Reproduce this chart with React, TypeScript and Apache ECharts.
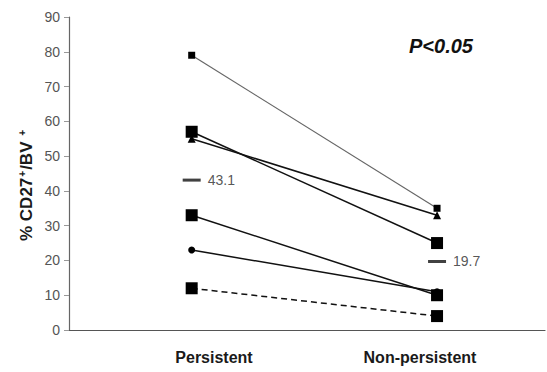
import React, { useEffect, useRef } from "react";
import * as echarts from "echarts";

const categories = ["Persistent", "Non-persistent"];
const yTicks = { min: 0, max: 90, interval: 10 };

// each patient: [persistent, non-persistent]
const line79 = [79, 35];
const line55 = [55, 33];
const line57 = [57, 25];
const line33 = [33, 10];
const line23 = [23, 11];
const line12 = [12, 4];
const means = [43.1, 19.7];
const pText = "P<0.05";

const toPts = (vals: number[]) => vals.map((v, i) => [i + 1, v]);

export default function App() {
  const ref = useRef<HTMLDivElement>(null);
  useEffect(() => {
    const chart = echarts.init(ref.current!, null, { renderer: "svg" });
    const font = "Arial, 'Liberation Sans', sans-serif";
    const black = "#111";
    const mk = (
      vals: number[],
      symbol: string,
      size: number,
      color: string,
      width: number,
      type: any = "solid"
    ) => ({
      type: "line",
      xAxisIndex: 0,
      yAxisIndex: 0,
      data: toPts(vals),
      symbol,
      symbolSize: size,
      itemStyle: { color: "#000" },
      lineStyle: { color, width, type },
      emphasis: { disabled: true },
    });
    chart.setOption({
      animation: false,
      grid: [
        { left: 69, right: 2, top: 17, bottom: 42 },
        { left: 111, width: 412, top: 17, bottom: 42 },
      ],
      xAxis: [
        {
          type: "value",
          gridIndex: 0,
          min: 0.5,
          max: 2.44,
          axisLine: { show: true, lineStyle: { color: "#555", width: 1.2 } },
          axisTick: { show: false },
          axisLabel: { show: false },
          splitLine: { show: false },
        },
        {
          type: "category",
          gridIndex: 1,
          data: categories,
          boundaryGap: true,
          axisLine: { show: false },
          axisTick: { show: false },
          axisLabel: {
            margin: 19,
            fontFamily: font,
            fontWeight: "bold",
            fontSize: 16,
            color: "#1a1a1a",
          },
        },
      ],
      yAxis: [
        {
          type: "value",
          gridIndex: 0,
          min: yTicks.min,
          max: yTicks.max,
          interval: yTicks.interval,
          axisLine: { show: true, lineStyle: { color: "#666", width: 1.2 } },
          axisTick: { show: true, length: 5, lineStyle: { color: "#999" } },
          axisLabel: { fontFamily: font, fontSize: 14, color: "#555", margin: 9 },
          splitLine: { show: false },
        },
        {
          type: "value",
          gridIndex: 1,
          show: false,
        },
      ],
      series: [
        mk(line79, "rect", 7, "#666", 1.2),
        mk(line55, "triangle", 8, black, 1.5),
        mk(line57, "rect", 12, black, 1.5),
        mk(line33, "rect", 12, black, 1.5),
        mk(line23, "circle", 7, black, 1.5),
        mk(line12, "rect", 12, black, 1.5, [6, 4]),
        {
          type: "scatter",
          xAxisIndex: 0,
          yAxisIndex: 0,
          data: toPts(means),
          symbol: "rect",
          symbolSize: [18, 3],
          itemStyle: { color: "#111" },
          emphasis: { disabled: true },
          label: {
            show: true,
            position: "right",
            distance: 7,
            formatter: (p: any) => String(p.value[1]),
            fontFamily: font,
            fontSize: 14,
            color: "#2a2a2a",
          },
        },
      ],
      graphic: [
        {
          type: "text",
          left: 409,
          top: 36,
          style: {
            text: pText,
            font: `italic bold 20px ${font}`,
            fill: "#111",
          },
        },
        {
          type: "text",
          x: 17,
          y: 241,
          rotation: Math.PI / 2,
          style: {
            text: "{n|% CD27}{s|+}{n|/BV }{s|+}",
            rich: {
              n: { fontFamily: font, fontWeight: "bold", fontSize: 17, fill: "#1a1a1a" },
              s: {
                fontFamily: font,
                fontWeight: "bold",
                fontSize: 10,
                fill: "#1a1a1a",
                verticalAlign: "top",
                padding: [0, 1, 9, 1],
              },
            },
            fill: "#1a1a1a",
          },
        },
      ],
    });
    return () => chart.dispose();
  }, []);
  return (
    <div
      ref={ref}
      style={{ position: "fixed", left: 0, top: 0, width: 547, height: 372, background: "#fff" }}
    />
  );
}
